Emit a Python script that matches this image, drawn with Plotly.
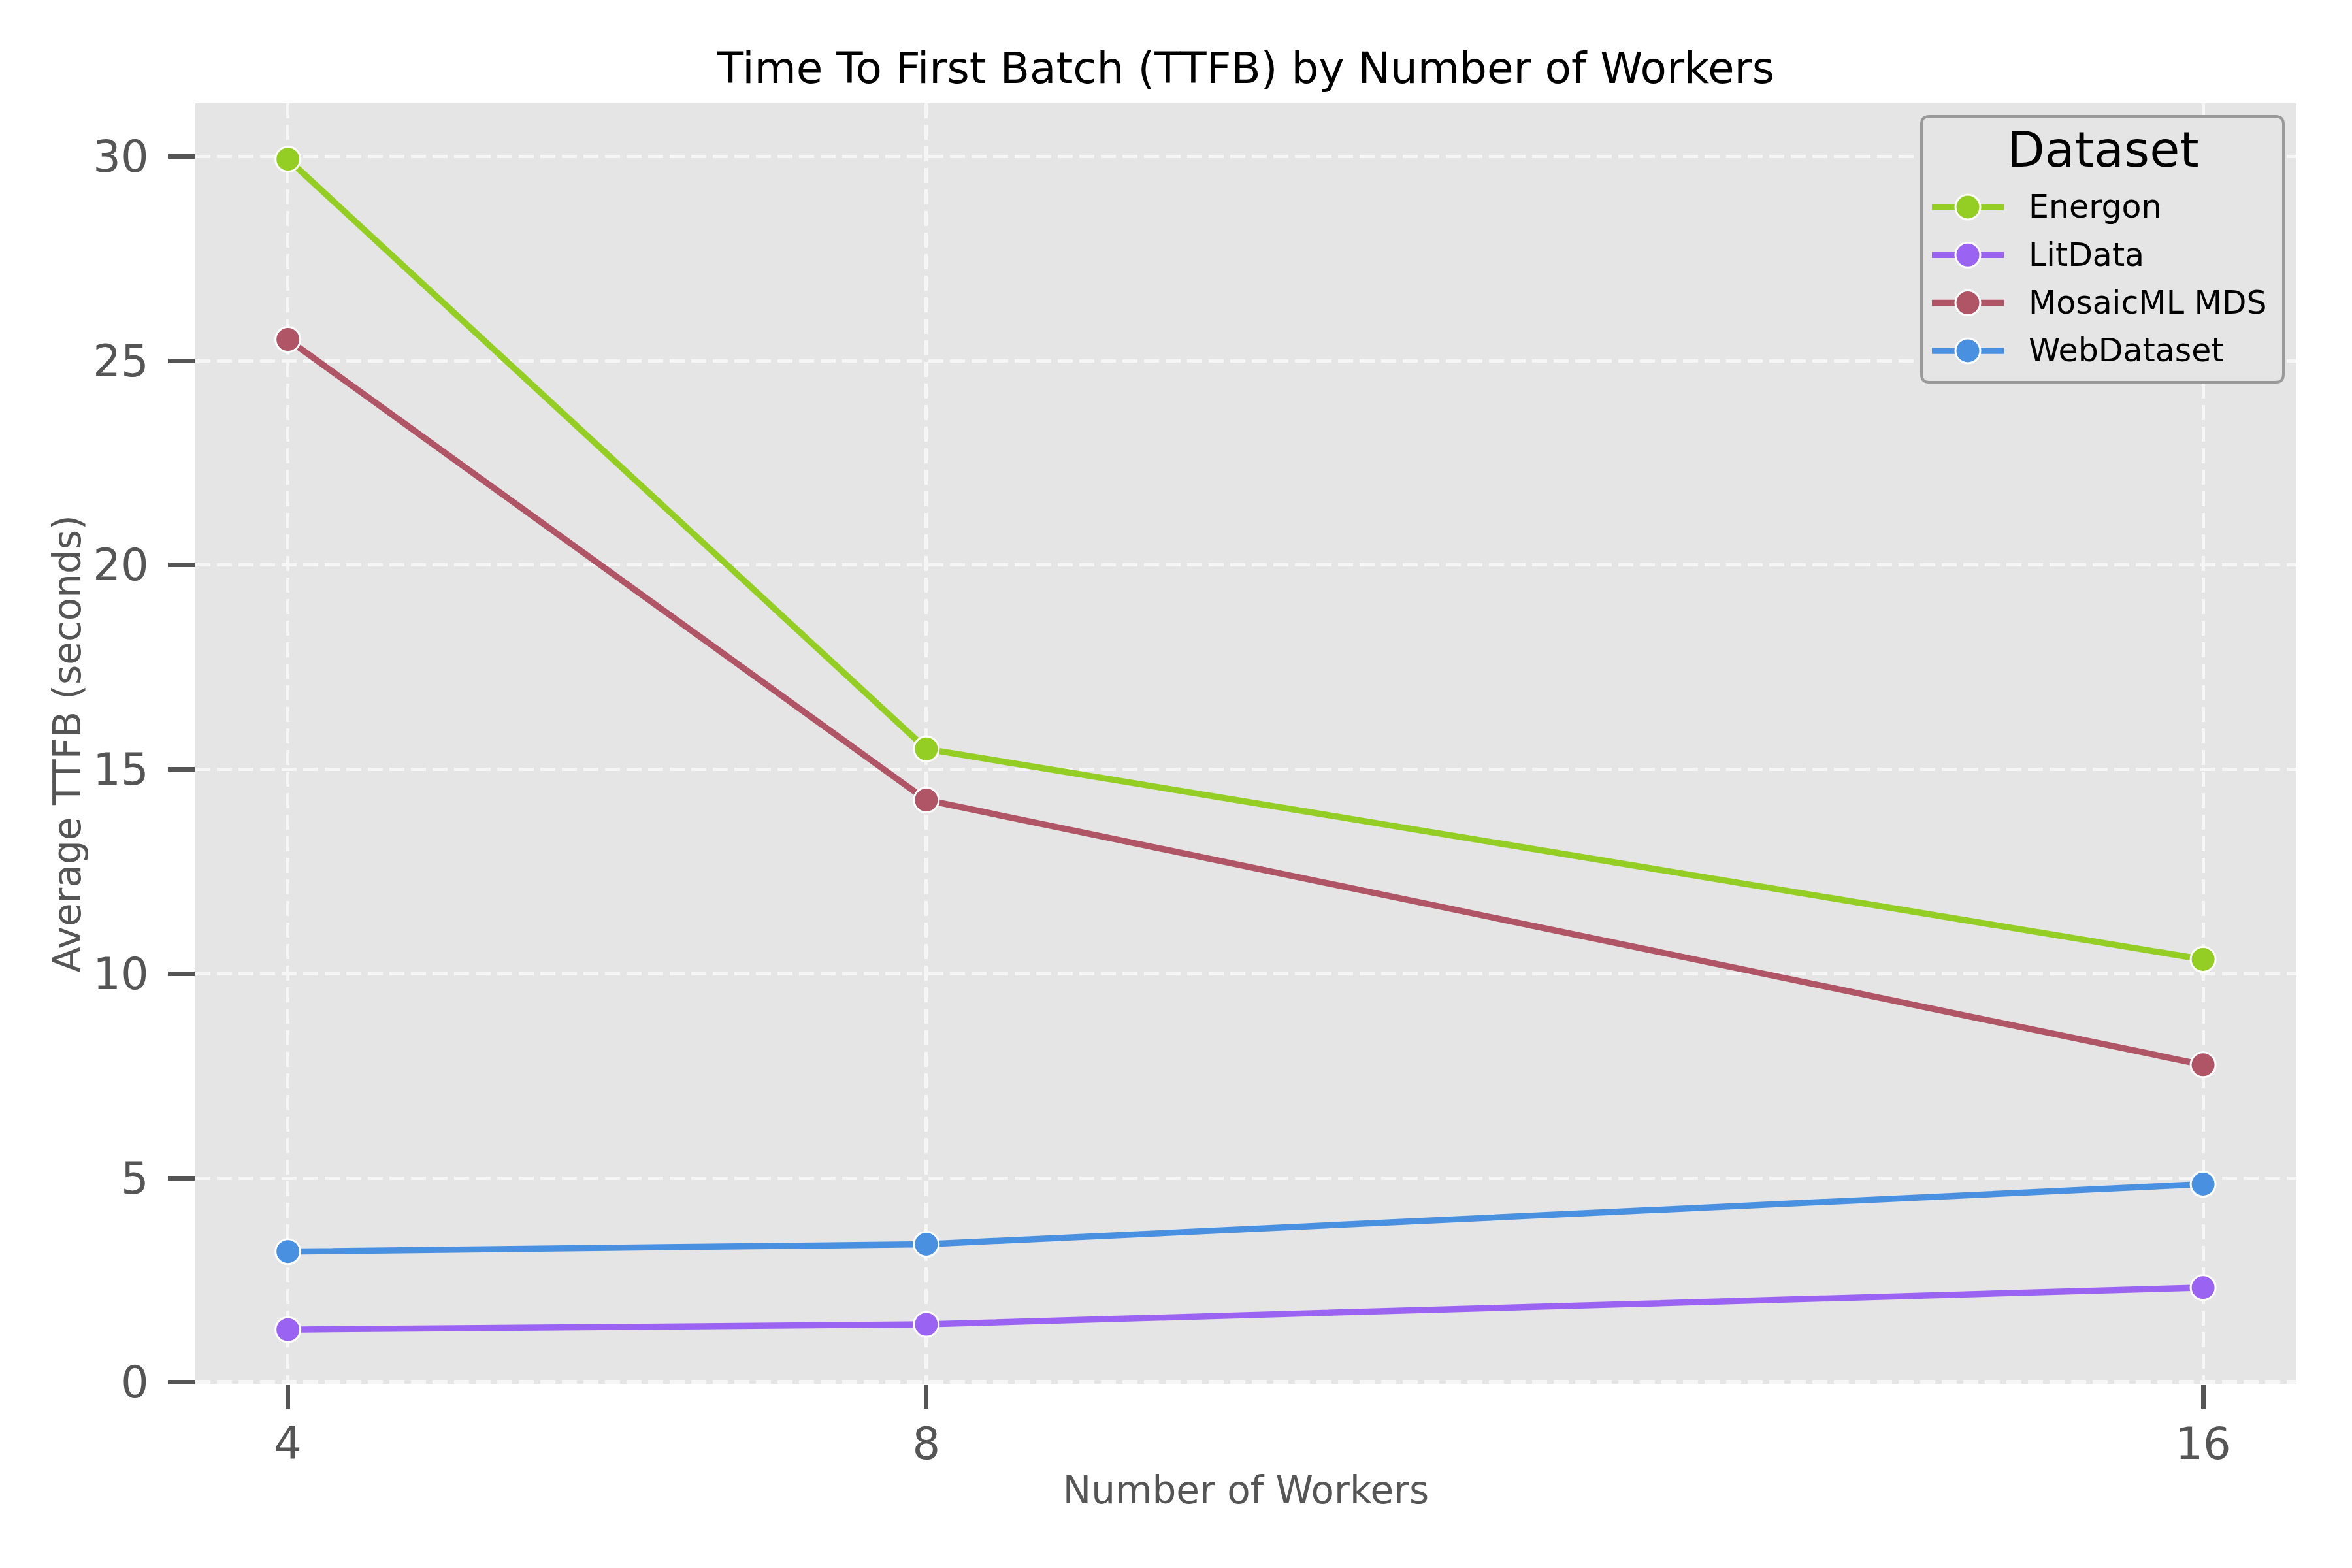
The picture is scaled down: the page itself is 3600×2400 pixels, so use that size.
import plotly.graph_objects as go

# Data
workers = [4, 8, 16]
energon = [29.93, 15.5, 10.35]
litdata = [1.29, 1.42, 2.32]
mosaic_mds = [25.52, 14.25, 7.77]
webdataset = [3.2, 3.38, 4.85]

series_names = ["Energon", "LitData", "MosaicML MDS", "WebDataset"]
series_values = [energon, litdata, mosaic_mds, webdataset]
series_colors = ["#94CE24", "#9B63F1", "#B05566", "#4A90E0"]

font_family = "DejaVu Sans"
tick_grey = "#555555"

# page pixels -> plot-area (paper) fractions; the page body adds an 8px offset
W, H = 3584, 2384
PL, PR, PT, PB = 291, 77, 150, 273
left_px, top_px = 8 + PL, 8 + PT
pw, ph = W - PL - PR, H - PT - PB


def px_x(px):
    return (px - left_px) / pw


def px_y(py):
    return (top_px + ph - py) / ph


fig = go.Figure()

for name, vals, color in zip(series_names, series_values, series_colors):
    fig.add_trace(go.Scatter(
        x=workers,
        y=vals,
        mode="lines+markers",
        name=name,
        showlegend=False,
        line=dict(color=color, width=9.5),
        marker=dict(size=38, color=color, line=dict(color="white", width=3)),
    ))

# Hand-built legend so the symbols can be as large as in the reference
shapes = []
annotations = []
bx0, bx1, by0, by1 = 2941, 3495, 178, 585
r = 12
rx, ry = r / pw, r / ph
x0, x1, y0, y1 = px_x(bx0), px_x(bx1), px_y(by1), px_y(by0)
box_path = (
    f"M {x0 + rx},{y0} L {x1 - rx},{y0} Q {x1},{y0} {x1},{y0 + ry} "
    f"L {x1},{y1 - ry} Q {x1},{y1} {x1 - rx},{y1} "
    f"L {x0 + rx},{y1} Q {x0},{y1} {x0},{y1 - ry} "
    f"L {x0},{y0 + ry} Q {x0},{y0} {x0 + rx},{y0} Z"
)
shapes.append(dict(type="path", xref="paper", yref="paper", path=box_path,
                   fillcolor="#E5E5E5", line=dict(color="#999999", width=4), layer="above"))
annotations.append(dict(text="Dataset", xref="paper", yref="paper",
                        x=px_x(3219), y=px_y(229), xanchor="center", yanchor="middle",
                        showarrow=False, font=dict(size=75, color="black", family=font_family)))

for i, (name, color) in enumerate(zip(series_names, series_colors)):
    cy = 317 + 73.3 * i
    shapes.append(dict(type="line", xref="paper", yref="paper",
                       x0=px_x(2957), x1=px_x(3067), y0=px_y(cy), y1=px_y(cy),
                       line=dict(color=color, width=9.5), layer="above"))
    shapes.append(dict(type="circle", xref="paper", yref="paper",
                       xsizemode="pixel", ysizemode="pixel",
                       xanchor=px_x(3012), yanchor=px_y(cy),
                       x0=-19, x1=19, y0=-19, y1=19,
                       fillcolor=color, line=dict(color="white", width=3), layer="above"))
    annotations.append(dict(text=name, xref="paper", yref="paper",
                            x=px_x(3103), y=px_y(cy), xanchor="left", yanchor="middle",
                            showarrow=False, font=dict(size=49, color="black", family=font_family)))

fig.update_layout(
    width=W,
    height=H,
    paper_bgcolor="white",
    plot_bgcolor="#E5E5E5",
    font=dict(family=font_family, color=tick_grey),
    margin=dict(l=PL, r=PR, t=PT, b=PB),
    showlegend=False,
    title=dict(
        text="Time To First Batch (TTFB) by Number of Workers",
        font=dict(size=66, color="black", family=font_family),
        xref="paper", x=0.5, xanchor="center", y=1 - 96 / H, yanchor="middle",
    ),
    xaxis=dict(
        title=dict(text="Number of Workers", font=dict(size=58, color=tick_grey), standoff=11),
        range=[3.42, 16.585],
        tickvals=workers,
        ticktext=[str(w) for w in workers],
        tickfont=dict(size=67, color=tick_grey),
        ticks="outside", ticklen=36, tickwidth=7, tickcolor=tick_grey,
        ticklabelstandoff=-3,
        showgrid=True, gridcolor="#F6F6F6", gridwidth=5, griddash="23px,10px",
        zeroline=False, showline=False,
    ),
    yaxis=dict(
        title=dict(text="Average TTFB (seconds)", font=dict(size=58, color=tick_grey), standoff=0),
        range=[-0.05, 31.3],
        tickvals=[0, 5, 10, 15, 20, 25, 30],
        tickfont=dict(size=67, color=tick_grey),
        ticks="outside", ticklen=41, tickwidth=7, tickcolor=tick_grey,
        ticklabelstandoff=16,
        showgrid=True, gridcolor="#F6F6F6", gridwidth=5, griddash="23px,10px",
        zeroline=False, showline=False,
    ),
    shapes=shapes,
    annotations=annotations,
)

fig.write_html("out.html")
